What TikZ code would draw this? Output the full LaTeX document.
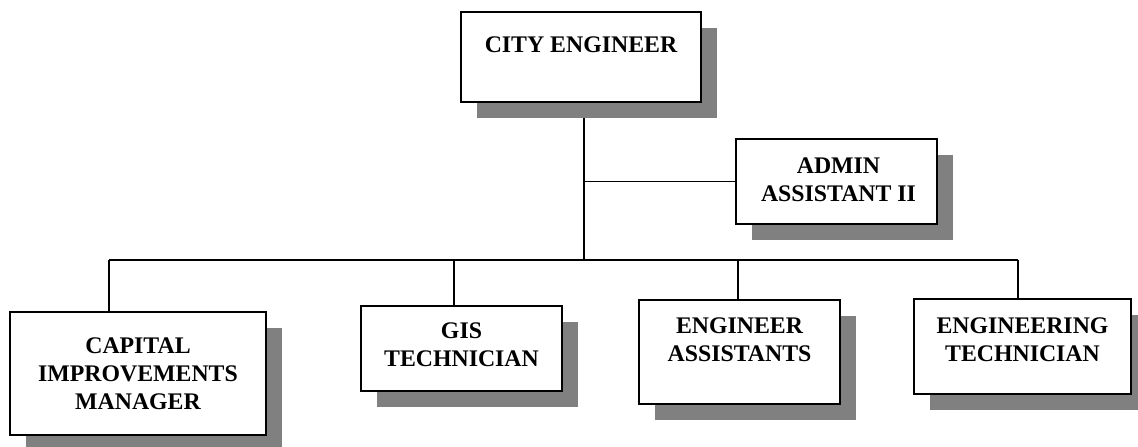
\documentclass[tikz,border=0pt]{standalone}
\usepackage{fontspec}
\setmainfont{Liberation Serif}
\usetikzlibrary{shadows,backgrounds}
\definecolor{shadowgray}{RGB}{128,128,128}
\begin{document}
\begin{tikzpicture}[x=1pt,y=-1pt,
  box/.style={draw, line width=1.8pt, fill=white, inner sep=0pt,
    drop shadow={shadow xshift=16pt, shadow yshift=-16pt, fill=shadowgray, opacity=1}},
  txt/.style={anchor=north, inner sep=0pt, align=center,
    font=\fontsize{23.8}{28}\selectfont\bfseries},
  link/.style={line width=1.1pt, draw=black}]
\useasboundingbox (0,0) rectangle (1138,447);

% boxes
\node[box, minimum width=240pt, minimum height=90pt]  (city)  at (581,57) {};
\node[box, minimum width=201pt, minimum height=85pt]  (admin) at (836.5,181.5) {};
\node[box, minimum width=256pt, minimum height=123pt] (cap)   at (138,373.5) {};
\node[box, minimum width=201pt, minimum height=85pt]  (gis)   at (461.5,348.5) {};
\node[box, minimum width=201pt, minimum height=104pt] (ea)    at (739.5,352) {};
\node[box, minimum width=217pt, minimum height=95pt]  (tech)  at (1022.5,346.5) {};

% texts
\node[txt] (cityT)  at ([yshift=-25pt]city.north)  {CITY ENGINEER};
\node[txt] (adminT) at ([xshift=2pt,yshift=-19pt]admin.north) {ADMIN\\ASSISTANT II};
\node[txt] (capT)   at ([yshift=-26pt]cap.north)   {CAPITAL\\IMPROVEMENTS\\MANAGER};
\node[txt] (gisT)   at ([yshift=-17pt]gis.north)   {GIS\\TECHNICIAN};
\node[txt] (eaT)    at ([yshift=-18pt]ea.north)    {ENGINEER\\ASSISTANTS};
\node[txt] (techT)  at ([yshift=-19pt]tech.north)  {ENGINEERING\\TECHNICIAN};

% connectors
\coordinate (bus)  at (584,260);
\coordinate (busL) at (109,260);
\coordinate (busR) at (1018,260);
\coordinate (tapG) at (454,260);
\coordinate (tapE) at (738,260);
\begin{scope}[on background layer]
\draw[link] (city.south -| bus) -- (bus);
\draw[link] (admin.west -| bus) -- (admin.west);
\draw[link] (busL) -- (busR);
\draw[link] (busL) -- (busL |- cap.north);
\draw[link] (tapG) -- (tapG |- gis.north);
\draw[link] (tapE) -- (tapE |- ea.north);
\draw[link] (busR) -- (busR |- tech.north);
\end{scope}
\end{tikzpicture}
\end{document}
